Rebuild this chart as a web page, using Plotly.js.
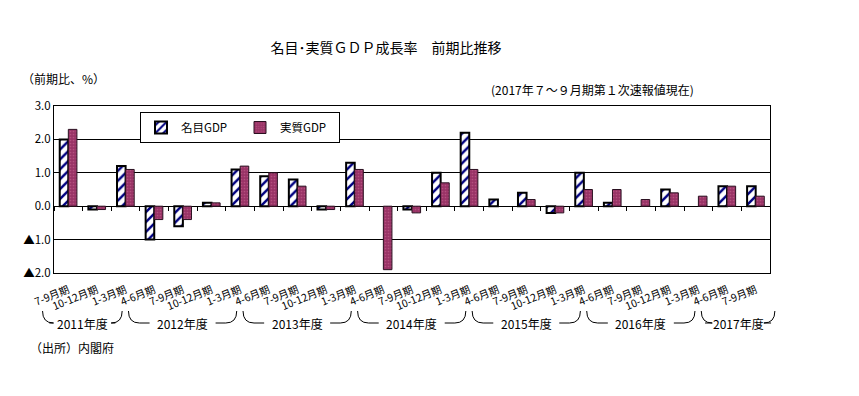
<!DOCTYPE html>
<html>
<head>
<meta charset="utf-8">
<script src="https://cdn.plot.ly/plotly-3.0.1.min.js"></script>
<style>
html,body{margin:0;padding:0;background:#fff;}
#chart{width:859px;height:396px;}
</style>
</head>
<body>
<div id="chart"></div>
<script>
// ---- data ----
const quarters = [
  "7-9月期","10-12月期","1-3月期",
  "4-6月期","7-9月期","10-12月期","1-3月期",
  "4-6月期","7-9月期","10-12月期","1-3月期",
  "4-6月期","7-9月期","10-12月期","1-3月期",
  "4-6月期","7-9月期","10-12月期","1-3月期",
  "4-6月期","7-9月期","10-12月期","1-3月期",
  "4-6月期","7-9月期"
];
const nominalGDP = [2.0,-0.1,1.2, -1.0,-0.6,0.1,1.1, 0.9,0.8,-0.1,1.3, 0.0,-0.1,1.0,2.2, 0.2,0.4,-0.2,1.0, 0.1,0.0,0.5,0.0, 0.6,0.6];
const realGDP    = [2.3,-0.1,1.1, -0.4,-0.4,0.1,1.2, 1.0,0.6,-0.1,1.1, -1.9,-0.2,0.7,1.1, 0.0,0.2,-0.2,0.5, 0.5,0.2,0.4,0.3, 0.6,0.3];
const fiscalYears = ["2011年度","2012年度","2013年度","2014年度","2015年度","2016年度","2017年度"];
const fiscalYearCounts = [3,4,4,4,4,4,2];
const yTickVals = [-2,-1,0,1,2,3];
const yTickText = ["▲2.0","▲1.0","0.0","1.0","2.0","3.0"];
const seriesNames = ["名目GDP","実質GDP"];

const FONT = '"Noto Sans CJK JP", "Noto Sans", sans-serif';
const idx = quarters.map((_, i) => i);
const n = quarters.length;

const traces = [
  {
    type: 'bar', name: seriesNames[0], x: idx, y: nominalGDP,
    marker: {
      color: 'white',
      line: {color: 'black', width: nominalGDP.map(v => v === 0 ? 0 : 2)},
      pattern: {shape: '/', fgcolor: '#000080', bgcolor: 'white', size: 7, solidity: 0.35}
    },
    hoverinfo: 'y'
  },
  {
    type: 'bar', name: seriesNames[1], x: idx, y: realGDP,
    marker: {
      color: '#993366',
      line: {color: '#2a1020', width: realGDP.map(v => v === 0 ? 0 : 1)},
      pattern: {shape: '.', fgcolor: '#b4507f', bgcolor: '#993366', size: 3, solidity: 0.25}
    },
    hoverinfo: 'y'
  },
  // invisible trace for the axis-crossing tick marks
  {type: 'scatter', x: [0], y: [0], xaxis: 'x2', yaxis: 'y', mode: 'none', showlegend: false, hoverinfo: 'skip'}
];

// brackets under the tick labels for fiscal years
const shapes = [];
const annotations = [];
const yTop = (273 - 311) / 167, yBot = (273 - 323) / 167;
const rx = 11 / 716;
let start = 0;
fiscalYears.forEach((fy, g) => {
  const cnt = fiscalYearCounts[g];
  const first = start, last = start + cnt - 1;
  const isLast = g === fiscalYears.length - 1;
  const x0 = (first - 0.9 + 0.5) / n;
  const x1 = (last + (isLast ? 0.67 : -0.12) + 0.5) / n;
  const xm = (x0 + x1) / 2;
  const gap = 33 / 716;
  const path =
    `M ${x0},${yTop} Q ${x0},${yBot} ${x0 + rx},${yBot} L ${xm - gap},${yBot} ` +
    `M ${xm + gap},${yBot} L ${x1 - rx},${yBot} Q ${x1},${yBot} ${x1},${yTop}`;
  shapes.push({type: 'path', xref: 'paper', yref: 'paper', path: path, line: {color: 'black', width: 1}});
  annotations.push({xref: 'paper', yref: 'paper', x: xm, y: yBot, text: fy, showarrow: false,
    xanchor: 'center', yanchor: 'middle', font: {family: FONT, size: 12, color: 'black'}});
  start += cnt;
});

annotations.push(
  {xref: 'paper', yref: 'paper', x: (696 - 54) / 716, y: (273 - 90) / 167, xanchor: 'right', yanchor: 'middle',
   text: '(2017年７～９月期第１次速報値現在)', showarrow: false, font: {family: FONT, size: 12, color: 'black'}},
  {xref: 'paper', yref: 'paper', x: (20 - 54) / 716, y: (273 - 78) / 167, xanchor: 'left', yanchor: 'middle',
   text: '（前期比、%）', showarrow: false, font: {family: FONT, size: 12, color: 'black'}},
  {xref: 'paper', yref: 'paper', x: (28 - 54) / 716, y: (273 - 347) / 167, xanchor: 'left', yanchor: 'middle',
   text: '（出所）内閣府', showarrow: false, font: {family: FONT, size: 12, color: 'black'}}
);

const boundaries = [];
for (let i = 0; i <= n; i++) boundaries.push(i - 0.5);

const layout = {
  width: 859, height: 396,
  margin: {l: 54, r: 89, t: 106, b: 123},
  paper_bgcolor: 'white', plot_bgcolor: 'white',
  font: {family: FONT, size: 11, color: 'black'},
  title: {text: '名目･実質ＧＤＰ成長率　前期比推移', x: 386 / 859, xanchor: 'center', y: 1 - 48 / 396, yanchor: 'middle',
          font: {family: FONT, size: 14, color: 'black'}},
  barmode: 'group', bargap: 0.4, bargroupgap: 0,
  showlegend: true,
  legend: {orientation: 'h', x: (140 - 54) / 716, y: (273 - 112) / 167, xanchor: 'left', yanchor: 'top',
           bordercolor: 'black', borderwidth: 1, bgcolor: 'white', itemwidth: 30,
           entrywidth: 54, entrywidthmode: 'pixels',
           font: {family: FONT, size: 11.5, color: 'black'}},
  xaxis: {
    range: [-0.5, n - 0.5], tickvals: idx, ticktext: quarters, tickangle: -22, ticklabelstandoff: 6,
    ticks: '', showgrid: false, zeroline: false, showline: true, linecolor: 'black', linewidth: 1, mirror: true,
    tickfont: {family: FONT, size: 10.5, color: 'black'}, fixedrange: true
  },
  xaxis2: {
    overlaying: 'x', anchor: 'free', position: 0.4, range: [-0.5, n - 0.5], tickvals: boundaries,
    ticks: 'outside', ticklen: 4, tickcolor: 'black', showticklabels: false, showgrid: false, zeroline: false, showline: false
  },
  yaxis: {
    range: [-2, 3], tickvals: yTickVals, ticktext: yTickText, ticks: '',
    showgrid: true, gridcolor: 'black', gridwidth: 1, zeroline: true, zerolinecolor: 'black', zerolinewidth: 1,
    showline: true, linecolor: 'black', linewidth: 1, mirror: true,
    tickfont: {family: FONT, size: 11.5, color: 'black'}, fixedrange: true
  },
  shapes: shapes,
  annotations: annotations
};

Plotly.newPlot('chart', traces, layout, {displayModeBar: false, staticPlot: true});
</script>
</body>
</html>
